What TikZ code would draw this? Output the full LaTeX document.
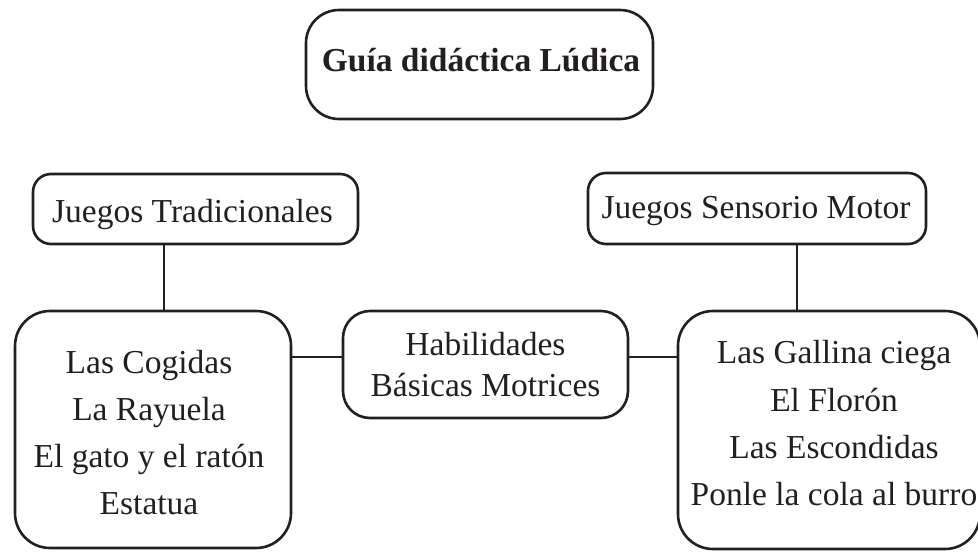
\documentclass[tikz,border=0pt]{standalone}
\usepackage{fontspec}
\setmainfont{Liberation Serif}
\definecolor{ink}{HTML}{231F20}
\begin{document}
\begin{tikzpicture}[x=1pt,y=-1pt,
  box/.style={draw=ink,line width=2.6pt,rounded corners=#1,inner sep=0pt,outer sep=0pt,anchor=north west},
  txt/.style={anchor=base,font=\fontsize{33.5}{40}\selectfont,text=ink,inner sep=0pt},
  link/.style={draw=ink,line width=2.6pt}]
\useasboundingbox (0,0) rectangle (978,552);
% boxes
\node[box=33,minimum width=347pt,minimum height=109pt] (title) at (306,10) {};
\node[box=18,minimum width=325pt,minimum height=70pt] (jt) at (33,174) {};
\node[box=18,minimum width=338pt,minimum height=71pt] (jsm) at (588,173) {};
\node[box=35,minimum width=276pt,minimum height=237pt] (left) at (15,311) {};
\node[box=27,minimum width=285pt,minimum height=107pt] (mid) at (343,311) {};
\node[box=35,minimum width=302pt,minimum height=238pt] (right) at (678,311) {};
% texts
\node[txt,font=\fontsize{33.5}{40}\selectfont\bfseries] (ttitle) at (481,71) {Guía didáctica Lúdica};
\node[txt] (tjt) at (192.5,222) {Juegos Tradicionales};
\node[txt] (tjsm) at (756,218) {Juegos Sensorio Motor};
\node[txt] (l1) at (149,373) {Las Cogidas};
\node[txt] (l2) at (149,420) {La Rayuela};
\node[txt] (l3) at (149,467) {El gato y el ratón};
\node[txt] (l4) at (149,514) {Estatua};
\node[txt] (m1) at (485.5,355) {Habilidades};
\node[txt] (m2) at (485.5,396) {Básicas Motrices};
\node[txt] (r1) at (834,363) {Las Gallina ciega};
\node[txt] (r2) at (834,411) {El Florón};
\node[txt] (r3) at (834,458) {Las Escondidas};
\node[txt] (r4) at (834,505) {Ponle la cola al burro};
% connectors
\coordinate (vl) at (164,0);
\coordinate (vr) at (797,0);
\coordinate (hy) at (0,357);
\draw[link] (jt.south -| vl) -- (left.north -| vl);
\draw[link] (jsm.south -| vr) -- (right.north -| vr);
\draw[link] (left.east |- hy) -- (mid.west |- hy);
\draw[link] (mid.east |- hy) -- (right.west |- hy);
\end{tikzpicture}
\end{document}
